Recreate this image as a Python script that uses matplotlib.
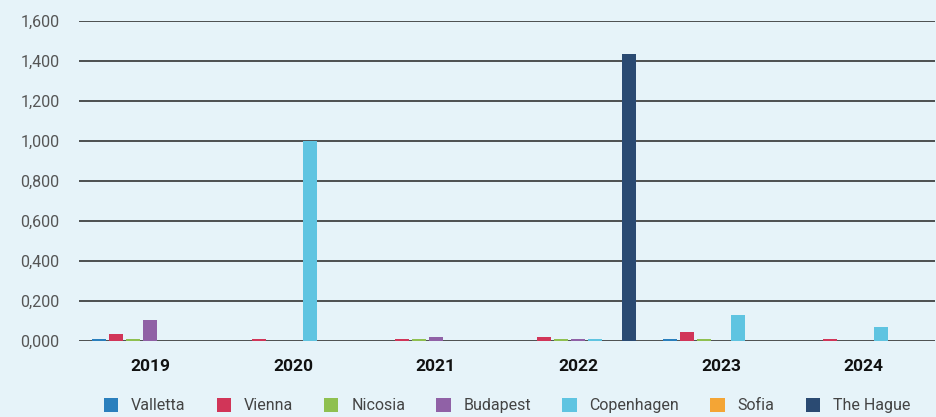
import numpy as np
import matplotlib.pyplot as plt
from matplotlib.ticker import FuncFormatter
from matplotlib.patches import Patch

years = ['2019', '2020', '2021', '2022', '2023', '2024']
cities = ['Valletta', 'Vienna', 'Nicosia', 'Budapest', 'Copenhagen', 'Sofia', 'The Hague']
colors = ['#2a7fbd', '#d13558', '#8fc050', '#9061a6', '#5fc4e1', '#f4a535', '#2a4a72']

valletta = [0.010, 0.0, 0.0, 0.0, 0.010, 0.0]
vienna = [0.035, 0.010, 0.010, 0.020, 0.045, 0.010]
nicosia = [0.010, 0.0, 0.010, 0.010, 0.010, 0.0]
budapest = [0.105, 0.0, 0.020, 0.010, 0.0, 0.0]
copenhagen = [0.0, 1.000, 0.0, 0.010, 0.130, 0.070]
sofia = [0.0, 0.0, 0.0, 0.0, 0.0, 0.0]
the_hague = [0.0, 0.0, 0.0, 1.435, 0.0, 0.0]
series = [valletta, vienna, nicosia, budapest, copenhagen, sofia, the_hague]

plt.rcParams['font.family'] = ['Roboto', 'DejaVu Sans']
bg = '#e6f3f9'

fig = plt.figure(figsize=(9.37, 4.17), dpi=100, facecolor=bg)
ax = fig.add_axes([79/937, 1-341/417, (935-79)/937, (341-21)/417])
ax.set_facecolor(bg)

x = np.arange(len(years))
pitch = 0.119
w = 0.098
for i, (vals, c) in enumerate(zip(series, colors)):
    ax.bar(x + (i - 3) * pitch, vals, w, color=c, zorder=3)

ax.set_ylim(0, 1.6)
ax.set_xlim(-0.5, len(years) - 0.5)
ax.set_yticks(np.arange(0, 1.61, 0.2))
ax.yaxis.set_major_formatter(FuncFormatter(lambda v, p: f'{v:.3f}'.replace('.', ',')))
ax.grid(axis='y', color='#333333', linewidth=1.2, zorder=1)
ax.set_xticks(x)
ax.set_xticklabels(years, fontweight='bold', fontsize=12.5, color='#111111')
ax.tick_params(axis='both', length=0)
ax.tick_params(axis='y', pad=14, labelsize=11.5, labelcolor='#555555')
ax.tick_params(axis='x', pad=13)
for s in ax.spines.values():
    s.set_visible(False)

handles = [Patch(facecolor=c, edgecolor='none') for c in colors]
fig.legend(handles, cities, loc='lower center', bbox_to_anchor=(0.541, -0.026), ncol=7,
           frameon=False, fontsize=11.5, handlelength=0.9, handleheight=0.9,
           columnspacing=1.95, handletextpad=0.8, labelcolor='#444444')

fig.savefig('out.png', dpi=100, facecolor=bg)
